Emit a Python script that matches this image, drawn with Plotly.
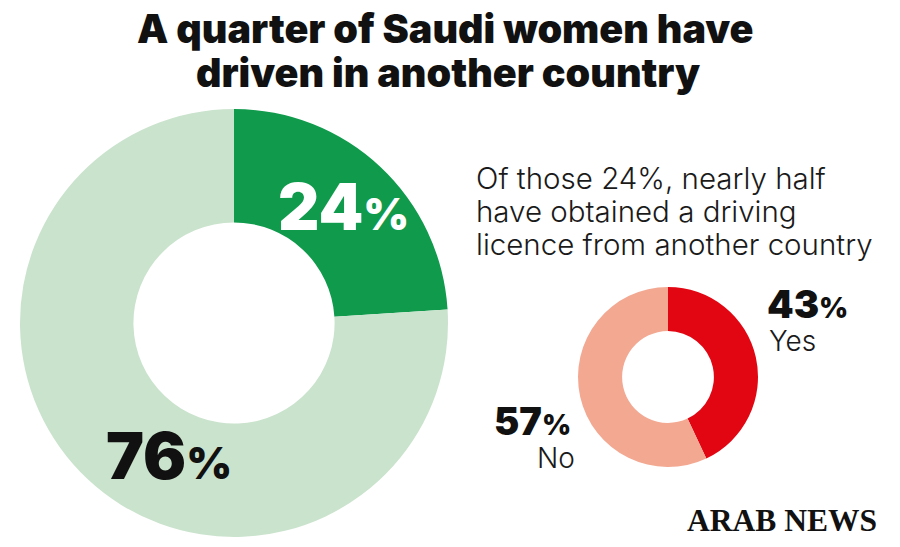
import plotly.graph_objects as go

W, H = 900, 547

title_lines = ["A quarter of Saudi women have", "driven in another country"]
subtitle_lines = ["Of those 24%, nearly half", "have obtained a driving", "licence from another country"]

big_labels = ["Have driven in another country", "Have not"]
big_values = [24, 76]
big_colors = ["#0f9a4c", "#cae3cd"]

small_labels = ["Yes", "No"]
small_values = [43, 57]
small_colors = ["#e20613", "#f3a892"]

source = "ARAB NEWS"


def px(x):
    return x / W


def py(y):
    return 1 - y / H


def pct(v, small):
    return f"{v}<span style='font-size:{small}px'>%</span>"


fig = go.Figure()

# big donut: centre (234, 323), radius 214
cx, cy, r = 234, 323, 214
fig.add_trace(go.Pie(
    labels=big_labels, values=big_values, hole=0.47, sort=False,
    direction="clockwise", rotation=0, textinfo="none", hoverinfo="label+percent",
    marker=dict(colors=big_colors, line=dict(width=0)),
    domain=dict(x=[px(cx - r), px(cx + r)], y=[py(cy + r), py(cy - r)]),
    showlegend=False,
))

# small donut: centre (668, 377), radius 90
sx, sy, sr = 668, 377, 90
fig.add_trace(go.Pie(
    labels=small_labels, values=small_values, hole=0.51, sort=False,
    direction="clockwise", rotation=0, textinfo="none", hoverinfo="label+percent",
    marker=dict(colors=small_colors, line=dict(width=0)),
    domain=dict(x=[px(sx - sr), px(sx + sr)], y=[py(sy + sr), py(sy - sr)]),
    showlegend=False,
))

HEAVY = "Inter"
BODY = "Inter"

ann = []
ann.append(dict(text=title_lines[0], x=px(445), y=py(29), xanchor="center", yanchor="middle",
                font=dict(family=HEAVY, size=39.5, color="#111111", weight=900)))
ann.append(dict(text=title_lines[1], x=px(448), y=py(73), xanchor="center", yanchor="middle",
                font=dict(family=HEAVY, size=39.5, color="#111111", weight=900)))

for i, line in enumerate(subtitle_lines):
    ann.append(dict(text=line, x=px(474), y=py(178 + 33 * i), xanchor="left", yanchor="middle",
                    font=dict(family=BODY, size=29.5, color="#1a1a1a", weight=300)))

ann.append(dict(text=pct(big_values[0], 44), x=px(276), y=py(207), xanchor="left", yanchor="middle",
                font=dict(family=HEAVY, size=64, color="#ffffff", weight=900)))
ann.append(dict(text=pct(big_values[1], 44), x=px(104), y=py(455), xanchor="left", yanchor="middle",
                font=dict(family=HEAVY, size=64, color="#111111", weight=900)))

ann.append(dict(text=pct(small_values[0], 28), x=px(765), y=py(304), xanchor="left", yanchor="middle",
                font=dict(family=HEAVY, size=38, color="#111111", weight=900)))
ann.append(dict(text=small_labels[0], x=px(767), y=py(341), xanchor="left", yanchor="middle",
                font=dict(family=BODY, size=28, color="#1a1a1a", weight=300)))
ann.append(dict(text=pct(small_values[1], 28), x=px(573), y=py(421), xanchor="right", yanchor="middle",
                font=dict(family=HEAVY, size=38, color="#111111", weight=900)))
ann.append(dict(text=small_labels[1], x=px(577), y=py(458), xanchor="right", yanchor="middle",
                font=dict(family=BODY, size=28, color="#1a1a1a", weight=300)))

ann.append(dict(text=f"<b>{source}</b>", x=px(879), y=py(520), xanchor="right", yanchor="middle",
                font=dict(family="Liberation Serif", size=31.5, color="#111111")))

for a in ann:
    a.update(xref="paper", yref="paper", showarrow=False)

fig.update_layout(
    width=W, height=H, margin=dict(l=0, r=0, t=0, b=0),
    paper_bgcolor="#ffffff", plot_bgcolor="#ffffff",
    annotations=ann,
)

fig.write_html("out.html", config={"displayModeBar": False},
               post_script="document.body.style.margin='0px';")
